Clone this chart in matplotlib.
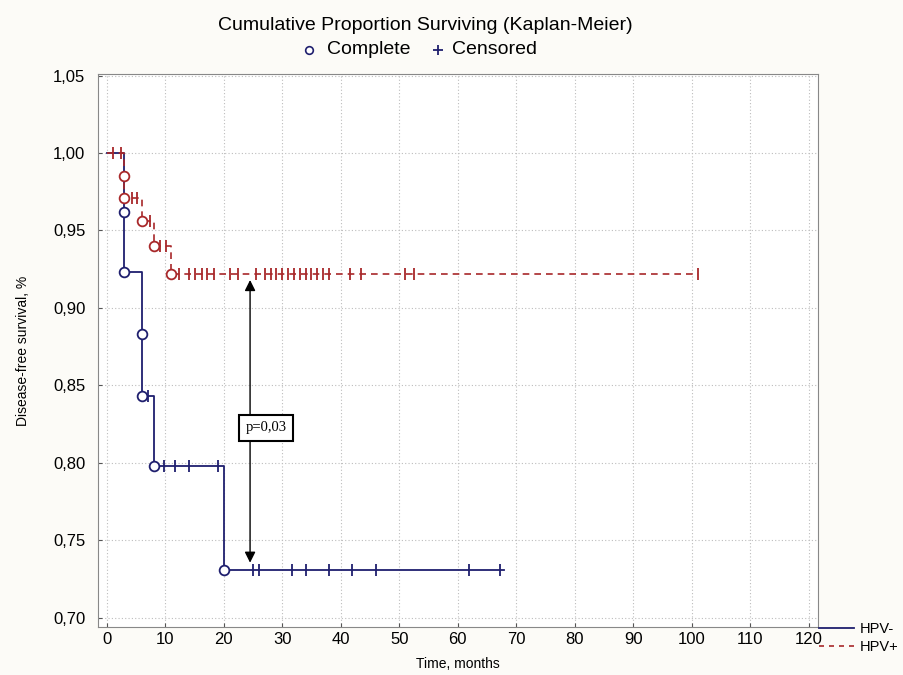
import matplotlib
matplotlib.use("Agg")
import matplotlib.pyplot as plt
from matplotlib.lines import Line2D
import numpy as np

plt.rcParams['font.family'] = ['Liberation Sans', 'DejaVu Sans']

# ---- data ----
neg_event_times = [3, 3, 6, 6, 8, 20]
neg_event_surv = [0.962, 0.923, 0.883, 0.843, 0.798, 0.731]
neg_cens_times = [7, 9.8, 11.7, 14, 19, 25, 26, 31.7, 34, 38, 42, 46, 62, 67.3]
neg_end = 68

pos_event_times = [3, 3, 6, 8, 11]
pos_event_surv = [0.985, 0.971, 0.956, 0.940, 0.922]
pos_cens_times = [1.1, 2.4, 4.3, 5.2, 7.4, 9.1, 10.2, 12.4, 14.1, 15.1, 16.2, 17.2, 18.3,
                  21, 22.5, 25.5, 27, 28, 29, 30, 31, 32, 33, 34, 35, 36, 37, 38,
                  41.5, 43.5, 51, 52.5, 101]
pos_end = 101

xticks = list(range(0, 121, 10))
yticks = [0.70, 0.75, 0.80, 0.85, 0.90, 0.95, 1.00, 1.05]

NAVY = '#1f1f6e'
RED = '#a8282a'


def step_curve(ev_t, ev_s, end):
    ts = [0.0]
    ss = [1.0]
    for t, s in zip(ev_t, ev_s):
        ts.append(t)
        ss.append(s)
    ts.append(end)
    ss.append(ss[-1])
    return np.array(ts), np.array(ss)


def surv_at(t, ev_t, ev_s):
    s = 1.0
    for et, es in zip(ev_t, ev_s):
        if et <= t:
            s = es
    return s


fig = plt.figure(figsize=(9.04, 6.75), dpi=100, facecolor='#fcfbf7')
ax = fig.add_axes([98 / 904, 1 - 627 / 675, (818 - 98) / 904, (627 - 74) / 675])
ax.set_facecolor('white')

# HPV- curve
t, s = step_curve(neg_event_times, neg_event_surv, neg_end)
ax.plot(t, s, drawstyle='steps-post', color=NAVY, lw=1.3, zorder=3)
ax.plot(neg_event_times, neg_event_surv, 'o', ms=7, mfc='white', mec=NAVY, mew=1.3, zorder=5)
ax.plot(neg_cens_times, [surv_at(c, neg_event_times, neg_event_surv) for c in neg_cens_times],
        '|', ms=9, color=NAVY, mew=1.3, zorder=4)

# HPV+ curve
t, s = step_curve(pos_event_times, pos_event_surv, pos_end)
ax.plot(t, s, drawstyle='steps-post', color=RED, lw=1.2, ls=(0, (4, 3)), zorder=3)
ax.plot(pos_event_times, pos_event_surv, 'o', ms=7, mfc='white', mec=RED, mew=1.3, zorder=5)
ax.plot(pos_cens_times, [surv_at(c, pos_event_times, pos_event_surv) for c in pos_cens_times],
        '|', ms=9, color=RED, mew=1.3, zorder=4)

# p-value arrow and box
ax.annotate('', xy=(24.5, 0.7355), xytext=(24.5, 0.918),
            arrowprops=dict(arrowstyle='<|-|>', color='black', lw=1.0,
                            mutation_scale=16, shrinkA=0, shrinkB=0), zorder=6)
ax.text(27.2, 0.8225, 'p=0,03', family=['Liberation Serif', 'DejaVu Serif'], fontsize=10.5,
        ha='center', va='center', zorder=7,
        bbox=dict(boxstyle='square,pad=0.45', fc='white', ec='black', lw=1.5))

ax.set_xlim(-1.5, 121.6)
ax.set_ylim(0.694, 1.051)
ax.set_xticks(xticks)
ax.set_yticks(yticks)
ax.set_yticklabels([f'{v:.2f}'.replace('.', ',') for v in yticks])
ax.tick_params(direction='in', length=3, labelsize=12, color='#555555')
ax.tick_params(axis='y', pad=9)
ax.grid(True, ls=(0, (1, 2)), color='#bdbdbd', lw=0.8)
ax.set_axisbelow(True)
for sp in ax.spines.values():
    sp.set_color('#888888')
    sp.set_linewidth(0.8)

ax.set_xlabel('Time, months', fontsize=10)
ax.set_ylabel('Disease-free survival, %', fontsize=10)
ax.xaxis.set_label_coords(0.5, -0.055)
ax.yaxis.set_label_coords(-0.094, 0.5)

# Titles
fig.text(425 / 904, 1 - 25 / 675, 'Cumulative Proportion Surviving (Kaplan-Meier)',
         ha='center', va='center', fontsize=14)
fig.add_artist(Line2D([309 / 904], [1 - 50 / 675], marker='o', ms=5.5, mfc='white', mec=NAVY,
                      mew=1.2, ls='none', transform=fig.transFigure))
fig.text(327 / 904, 1 - 50 / 675, 'Complete', ha='left', va='center', fontsize=14)
fig.add_artist(Line2D([438 / 904], [1 - 50 / 675], marker='+', ms=7.5, color=NAVY,
                      mew=1.3, ls='none', transform=fig.transFigure))
fig.text(452 / 904, 1 - 50 / 675, 'Censored', ha='left', va='center', fontsize=14)

# Legend
handles = [Line2D([], [], color=NAVY, lw=1.3),
           Line2D([], [], color=RED, lw=1.2, ls=(0, (3, 3)))]
fig.legend(handles, ['HPV-', 'HPV+'], loc='upper left',
           bbox_to_anchor=(809 / 904, 1 - 612 / 675), frameon=False,
           fontsize=10.5, handlelength=2.4, handletextpad=0.4, labelspacing=0.25,
           borderpad=0.2)

fig.savefig('out.png', dpi=100, facecolor=fig.get_facecolor())
